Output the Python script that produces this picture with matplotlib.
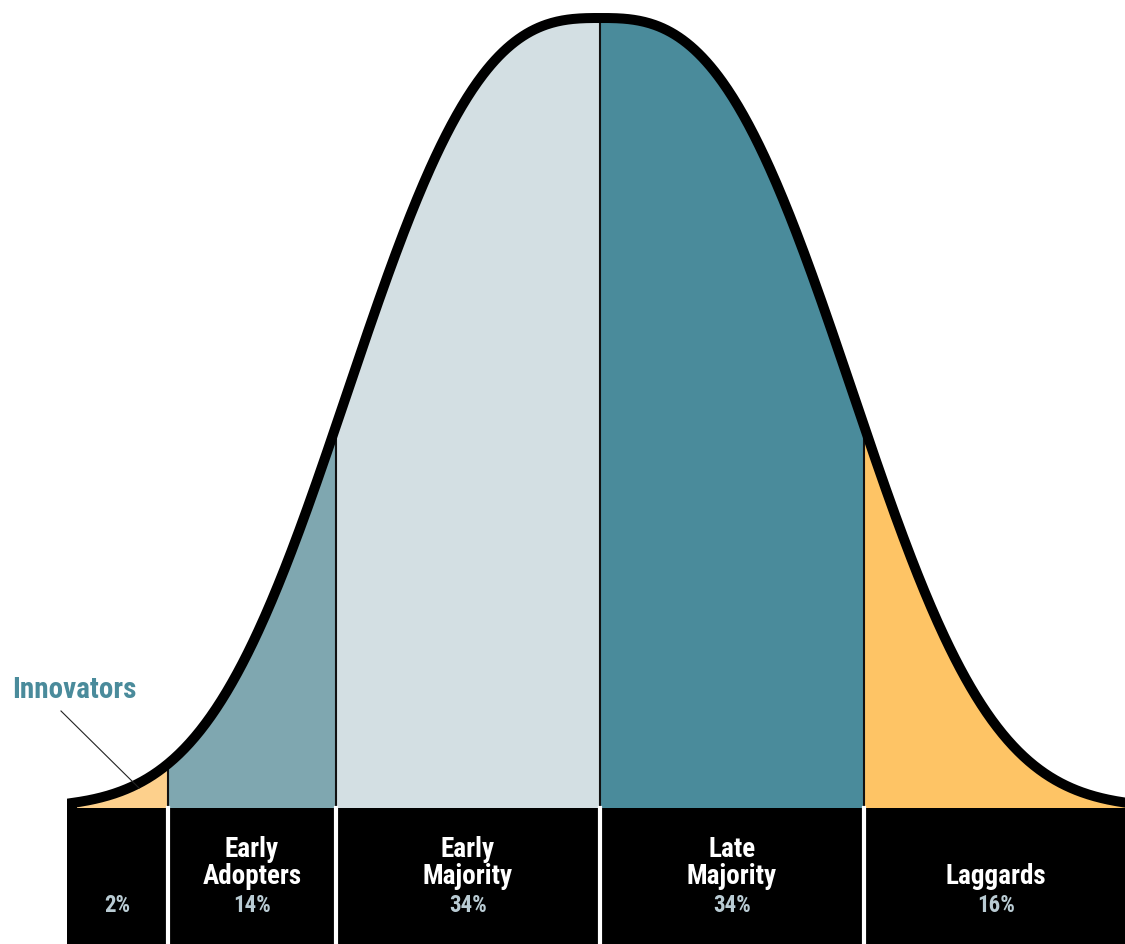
import numpy as np
import matplotlib
matplotlib.use("Agg")
import matplotlib.pyplot as plt

# Adopter categories (Rogers' diffusion of innovations)
categories = ["Innovators", "Early\nAdopters", "Early\nMajority", "Late\nMajority", "Laggards"]
shares = [2, 14, 34, 34, 16]
# segment boundaries along the bell, in standard-deviation-like units
edges = [-2.0, -1.636, -1.0, 0.0, 1.0, 2.0]
fill_colors = ["#FDD08C", "#7FA7B0", "#D3DFE3", "#4A8B9B", "#FEC465"]

TEAL = "#4A8B9B"
PCT_COLOR = "#B9CBD3"
FONT = ["Roboto Condensed", "IBM Plex Sans Condensed", "DejaVu Sans"]


def bell(z, width=1.121, power=2.8):
    """Flat-topped bell shape, peak height 1."""
    return np.exp(-(np.abs(z) / width) ** power)


W, H = 1125, 944
fig = plt.figure(figsize=(W / 100, H / 100), dpi=100)
ax = fig.add_axes([0, 0, 1, 1])
ax.set_xlim(-600 / 264, 525 / 264)
ax.set_ylim(-136 / 790, 808 / 790)
ax.axis("off")

px = 264.0  # pixels per x unit
stroke_px = 10
half = stroke_px / 2 / px

# coloured segments under the curve
for i in range(len(shares)):
    xs = np.linspace(edges[i], edges[i + 1], 200)
    ax.fill_between(xs, 0, bell(xs), color=fill_colors[i], lw=0, zorder=1)

# thin dividers between segments
for e in edges[1:-1]:
    ax.plot([e, e], [0, bell(e)], color="#111111", lw=1.5, zorder=2)

# outline of the bell, dropping to the baseline at both ends
xs = np.linspace(edges[0], edges[-1], 800)
ox = np.concatenate([[edges[0]], xs, [edges[-1]]])
oy = np.concatenate([[-0.01], bell(xs), [-0.01]])
ax.plot(ox, oy, color="black", lw=stroke_px * 0.72, solid_joinstyle="miter",
        solid_capstyle="butt", zorder=3)

# black label band
band_left = edges[0] - half
ax.fill_between([band_left, 2.2], -0.3, 0, color="black", lw=0, zorder=4)
for e in edges[1:-1]:
    ax.plot([e, e], [-0.3, 0], color="white", lw=3.0, zorder=5)

# band labels
centers = [(edges[i] + edges[i + 1]) / 2 for i in range(len(shares))]
centers[0] = (band_left + edges[1]) / 2
name_base = (808 - 884) / 790
pct_base = (808 - 912) / 790
for i, (name, share) in enumerate(zip(categories, shares)):
    if i > 0:
        ax.text(centers[i], name_base, name, ha="center", va="baseline",
                color="white", fontsize=19.5, fontweight="bold", family=FONT,
                linespacing=1.0, zorder=6)
    ax.text(centers[i], pct_base, f"{share}%", ha="center", va="baseline",
            color=PCT_COLOR, fontsize=16.5, fontweight="bold", family=FONT,
            zorder=6)

# callout for the small innovators slice
ax.text((74 - 600) / px, (808 - 690) / 790, categories[0], ha="center",
        va="center", color=TEAL, fontsize=21, fontweight="bold", family=FONT,
        zorder=6)
ax.plot([(61 - 600) / px, (139 - 600) / px],
        [(808 - 711) / 790, (808 - 788) / 790], color="#222222", lw=0.8, zorder=6)

fig.savefig("out.png", dpi=100)
